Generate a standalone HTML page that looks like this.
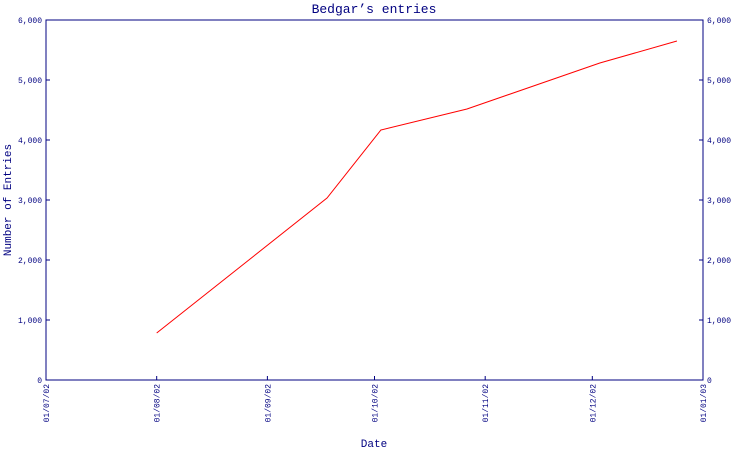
<!DOCTYPE html>
<html><head><meta charset="utf-8"><style>
body{margin:0;background:#fff;}
svg text{font-family:"Liberation Mono","DejaVu Sans Mono",monospace;fill:#000080;}
</style></head><body>
<svg width="750" height="450" xmlns="http://www.w3.org/2000/svg">
<text x="374" y="13" font-size="13" text-anchor="middle">Bedgar’s entries</text>
<g id="axes"></g>
<polyline id="line" fill="none" stroke="#ff0000" stroke-width="1"/>
<text x="374" y="447" font-size="11" text-anchor="middle">Date</text>
<text transform="translate(11,200) rotate(-90)" font-size="11" text-anchor="middle">Number of Entries</text>
</svg>
<script>
const xTickLabels=["01/07/02","01/08/02","01/09/02","01/10/02","01/11/02","01/12/02","01/01/03"];
const xTickDays=[0,31,62,92,123,153,184];
const yTicks=[0,1000,2000,3000,4000,5000,6000];
const yTickLabels=["0","1,000","2,000","3,000","4,000","5,000","6,000"];
const pointDays=[31,78.7,93.8,117.9,155.1,176.7];
const pointValues=[783,3033,4167,4517,5283,5650];
const X0=46,X1=703,Y0=380,Y1=20;
const sx=d=>X0+(d/184)*(X1-X0);
const sy=v=>Y0-(v/6000)*(Y0-Y1);
const NS="http://www.w3.org/2000/svg";
const g=document.getElementById('axes');
function mk(tag,attrs){const e=document.createElementNS(NS,tag);for(const k in attrs)e.setAttribute(k,attrs[k]);g.appendChild(e);return e;}
const frame=mk('rect',{x:X0,y:Y1,width:X1-X0,height:Y0-Y1,fill:'none',stroke:'#000080','stroke-width':1});


yTicks.forEach((v,i)=>{
 const y=sy(v);
 const t1=mk('line',{x1:X0,x2:X0+4,y1:y,y2:y,stroke:'#000080'});
 
 
 const t2=mk('line',{x1:X1-4,x2:X1,y1:y,y2:y,stroke:'#000080'});
 
 
 const l=mk('text',{x:X0-4,y:y+3,'font-size':8,'text-anchor':'end'});l.textContent=yTickLabels[i];
 
 
 const r=mk('text',{x:X1+4,y:y+3,'font-size':8,'text-anchor':'start'});r.textContent=yTickLabels[i];
 
 
});
xTickDays.forEach((d,i)=>{
 const x=sx(d);
 const t=mk('line',{x1:x,x2:x,y1:Y0,y2:Y0-4,stroke:'#000080'});
 
 
 const l=mk('text',{transform:`translate(${x+3},${Y0+4}) rotate(-90)`,'font-size':8,'text-anchor':'end'});l.textContent=xTickLabels[i];
 
 
});
document.getElementById('line').setAttribute('points',pointDays.map((d,i)=>sx(d)+','+sy(pointValues[i])).join(' '));
</script>
</body></html>
